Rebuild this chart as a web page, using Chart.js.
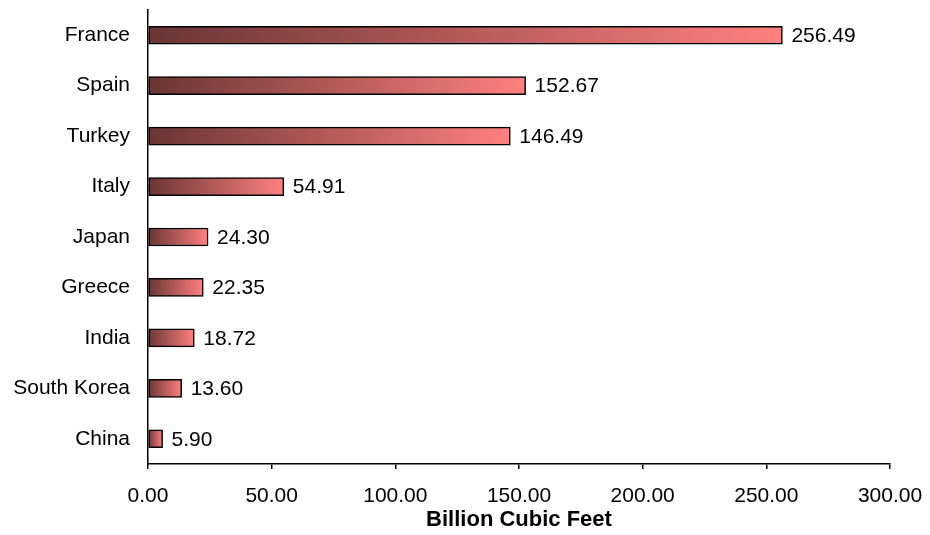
<!DOCTYPE html>
<html>
<head>
<meta charset="utf-8">
<script src="https://cdn.jsdelivr.net/npm/chart.js@4/dist/chart.umd.min.js"></script>
<style>
  html, body { margin: 0; padding: 0; background: #ffffff; }
  #c { display: block; }
</style>
</head>
<body>
<canvas id="c" width="930" height="535"></canvas>
<script>
const categories = ["France", "Spain", "Turkey", "Italy", "Japan", "Greece", "India", "South Korea", "China"];
const values = [256.49, 152.67, 146.49, 54.91, 24.30, 22.35, 18.72, 13.60, 5.90];
const xTicks = [0, 50, 100, 150, 200, 250, 300];
const axisTitle = "Billion Cubic Feet";

const DARK = "#6a3535";
const LIGHT = "#ff8080";
const FONT = "'Liberation Sans', Arial, sans-serif";

function barGradient(context) {
  const chart = context.chart;
  const area = chart.chartArea;
  if (!area || context.type !== 'data') return LIGHT;
  const xs = chart.scales.x;
  const x0 = xs.getPixelForValue(0);
  const x1 = xs.getPixelForValue(context.raw);
  if (!isFinite(x0) || !isFinite(x1) || x1 - x0 < 1) return LIGHT;
  const g = chart.ctx.createLinearGradient(x0, 0, x1, 0);
  g.addColorStop(0, DARK);
  g.addColorStop(1, LIGHT);
  return g;
}

const valueLabels = {
  id: 'valueLabels',
  afterDatasetsDraw(chart) {
    const ctx = chart.ctx;
    const meta = chart.getDatasetMeta(0);
    ctx.save();
    ctx.font = "21px " + FONT;
    ctx.fillStyle = "#000000";
    ctx.textAlign = "left";
    ctx.textBaseline = "middle";
    meta.data.forEach((bar, i) => {
      const v = chart.data.datasets[0].data[i];
      ctx.fillText(v.toFixed(2), bar.x + 9, bar.y + 1);
    });
    ctx.restore();
  }
};

new Chart(document.getElementById('c'), {
  type: 'bar',
  data: {
    labels: categories,
    datasets: [{
      data: values,
      backgroundColor: barGradient,
      borderColor: "#000000",
      borderWidth: 1.5,
      borderSkipped: false,
      barThickness: 18
    }]
  },
  options: {
    indexAxis: 'y',
    responsive: false,
    devicePixelRatio: 1,
    animation: false,
    layout: { padding: { left: 0, right: 40, top: 10, bottom: 0 } },
    plugins: {
      legend: { display: false },
      tooltip: { enabled: false },
      title: { display: false }
    },
    scales: {
      y: {
        type: 'category',
        offset: true,
        grid: { display: false },
        border: { display: true, color: "#000000", width: 1.5 },
        ticks: { color: "#000000", font: { family: FONT, size: 21 }, padding: 10 },
        afterFit(scale) { scale.width = 148; scale.paddingTop = 0; scale.paddingBottom = 0; }
      },
      x: {
        type: 'linear',
        min: 0,
        max: 300,
        afterBuildTicks(scale) { scale.ticks = xTicks.map(v => ({ value: v })); },
        grid: { display: true, drawOnChartArea: false, drawTicks: true, tickLength: 5, color: "#000000", lineWidth: 1.5 },
        border: { display: true, color: "#000000", width: 1.5 },
        ticks: {
          color: "#000000",
          font: { family: FONT, size: 21 },
          padding: 15,
          maxRotation: 0,
          callback: (v) => Number(v).toFixed(2)
        },
        title: {
          display: true,
          text: axisTitle,
          color: "#000000",
          font: { family: FONT, size: 22, weight: 'bold' },
          padding: { top: 2, bottom: 2 }
        },
        afterFit(scale) { scale.height = 71; scale.paddingLeft = 0; scale.paddingRight = 0; }
      }
    }
  },
  plugins: [valueLabels]
});
</script>
</body>
</html>
